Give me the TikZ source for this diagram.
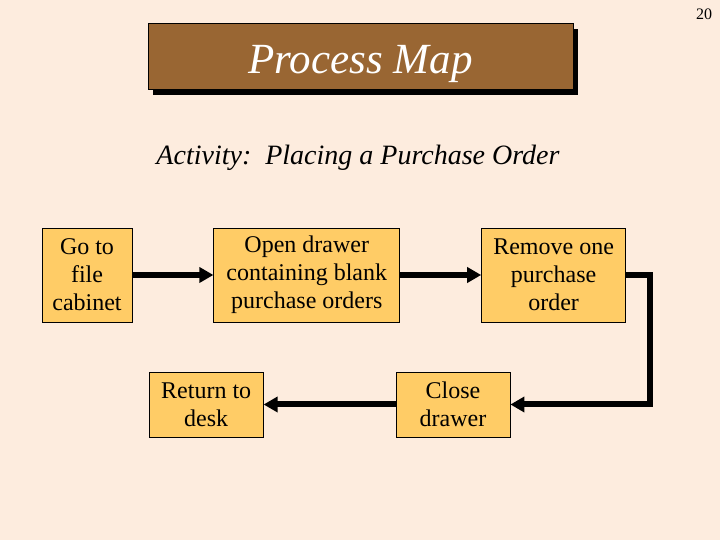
\documentclass[tikz,border=0pt]{standalone}
\usepackage{fontspec}
\setmainfont{Liberation Serif}
\usetikzlibrary{arrows.meta, positioning, shadows}
\definecolor{pagebg}{RGB}{253,236,222}
\definecolor{titlebrown}{RGB}{153,102,51}
\definecolor{boxfill}{RGB}{255,204,102}

\begin{document}
\begin{tikzpicture}[
  x=1pt, y=1pt,
  node distance=81pt,
  box/.style={rectangle, draw, line width=0.8pt, fill=boxfill, inner sep=0pt,
              align=center, font=\fontsize{24}{28}\selectfont},
  titlebox/.style={rectangle, draw, line width=1pt, fill=titlebrown, text=white,
                   minimum width=425pt, minimum height=66pt,
                   text height=34pt, text depth=0pt,
                   font=\fontsize{43}{50}\selectfont\itshape,
                   drop shadow={shadow xshift=5pt, shadow yshift=-5pt, fill=black, opacity=1}},
  arrow/.style={-{Triangle[length=14pt, width=15pt]}, line width=6pt, line join=miter}
]
  \fill[pagebg] (0,0) rectangle (720,540);
  \useasboundingbox (0,0) rectangle (720,540);

  % title
  \node[titlebox] (title) at (360.5,483) {Process Map};
  \node[font=\fontsize{28}{32}\selectfont\itshape] (activity) at (358,382)
    {Activity:\ \ Placing a Purchase Order};
  \node[font=\fontsize{16}{18}\selectfont] (pagenum) at (704,526) {20};

  % top row
  \node[box, minimum width=90pt, minimum height=94pt] (gocab) at (87,265)
    {Go to\\file\\cabinet};
  \node[box, minimum width=186pt, minimum height=94pt, right=of gocab] (opendrawer)
    {Open drawer\\containing blank\\purchase orders};
  \node[box, minimum width=144pt, minimum height=94pt, right=of opendrawer] (removeone)
    {Remove one\\purchase\\order};

  % bottom row
  \node[box, minimum width=114pt, minimum height=65pt] (closedrawer) at (453,135.5)
    {Close\\drawer};
  \node[box, minimum width=114pt, minimum height=65pt, left=132pt of closedrawer] (returndesk)
    {Return to\\desk};

  % arrows
  \coordinate (bend) at ([xshift=24pt]removeone.east);
  \draw[arrow] (gocab) -- (opendrawer);
  \draw[arrow] (opendrawer) -- (removeone);
  \draw[arrow] (removeone.east) -- (bend) |- (closedrawer.east);
  \draw[arrow] (closedrawer) -- (returndesk);

\end{tikzpicture}
\end{document}
